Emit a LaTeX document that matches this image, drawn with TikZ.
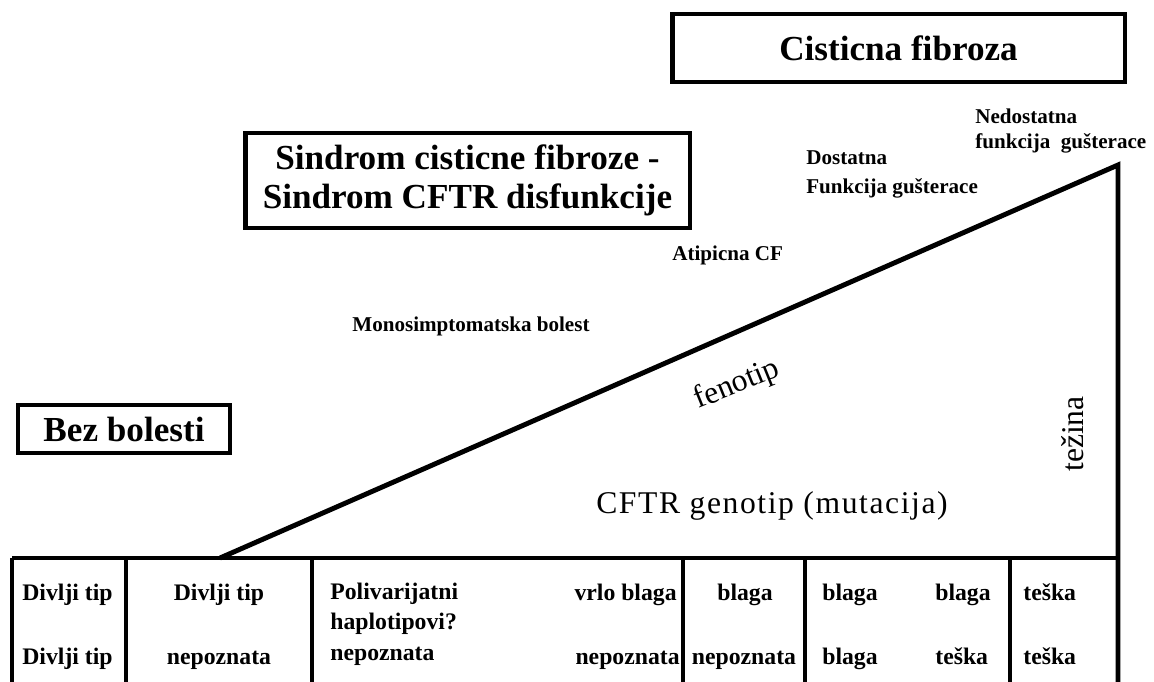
\documentclass[tikz,border=0pt]{standalone}
\usepackage{fontspec}
\setmainfont{Liberation Serif}
\begin{document}
\begin{tikzpicture}[x=0.02cm,y=-0.02cm,
    heavy/.style={line width=2.8pt},
    titlebox/.style={draw,line width=2.8pt,inner sep=0pt,align=center,
      font=\fontsize{20}{22}\selectfont\bfseries},
    lbl/.style={anchor=west,inner sep=0pt,font=\fontsize{12}{14}\selectfont\bfseries},
    cell/.style={inner sep=0pt,anchor=base,font=\fontsize{13.5}{16}\selectfont\bfseries},
    axis/.style={inner sep=0pt,font=\fontsize{18}{21}\selectfont}]
  \useasboundingbox (0,0) rectangle (1154,682);

  \node[titlebox,minimum width=9.06cm,minimum height=1.36cm] (cf) at (898.5,48) {Cisticna fibroza};
  \node[titlebox,minimum width=8.9cm,minimum height=1.9cm] (scf) at (467.5,180.5)
    {Sindrom cisticne fibroze -\\Sindrom CFTR disfunkcije};
  \node[titlebox,minimum width=4.24cm,minimum height=0.96cm] (bez) at (124,429) {Bez bolesti};

  \draw
    (975,116) node[lbl] (nedo){Nedostatna}
    (975,143) node[lbl] (nedof){funkcija\ \ gušterace}
    (806,158) node[lbl] (dost){Dostatna}
    (806,188) node[lbl] (dostf){Funkcija gušterace}
    (672,255) node[lbl] (atip){Atipicna CF}
    (352,326) node[lbl] (mono){Monosimptomatska bolest};

  \coordinate (tip) at (1118,165);
  \coordinate (foot) at (220,558);
  \coordinate (low) at (1118,682);
  \draw[heavy] (foot) -- (tip) -- (low);

  \node[axis,rotate=22] (fen) at (737,385) {fenotip};
  \node[axis,rotate=90] (tez) at (1073,434) {težina};
  \node[axis,font=\fontsize{18}{21}\selectfont\addfontfeature{LetterSpace=5}] (geno) at (772,506)
    {CFTR genotip (mutacija)};

  % table
  \coordinate (tl) at (12,558);
  \coordinate (tr) at (1118,558);
  \begin{scope}[heavy]
    \draw (tl) -- (tr);
    \foreach \x in {12,126,312,683,805,1010}
      \draw (\x,558) -- (\x,682);
  \end{scope}

  \draw
    (22,601) node[cell,anchor=base west] (a1){Divlji tip}
    (22,664) node[cell,anchor=base west] (a2){Divlji tip}
    (219,601) node[cell] (b1){Divlji tip}
    (219,664) node[cell] (b2){nepoznata}
    (330,600) node[cell,anchor=base west] (c1){Polivarijatni}
    (330,629) node[cell,anchor=base west] (c2){haplotipovi?}
    (330,660) node[cell,anchor=base west] (c3){nepoznata}
    (677,601) node[cell,anchor=base east] (d1){vrlo blaga}
    (680,664) node[cell,anchor=base east] (d2){nepoznata}
    (745,601) node[cell] (e1){blaga}
    (744,664) node[cell] (e2){nepoznata}
    (822,601) node[cell,anchor=base west] (f1){blaga}
    (935,601) node[cell,anchor=base west] (g1){blaga}
    (822,664) node[cell,anchor=base west] (f2){blaga}
    (935,664) node[cell,anchor=base west] (g2){teška}
    (1023,601) node[cell,anchor=base west] (h1){teška}
    (1023,664) node[cell,anchor=base west] (h2){teška};
\end{tikzpicture}
\end{document}
